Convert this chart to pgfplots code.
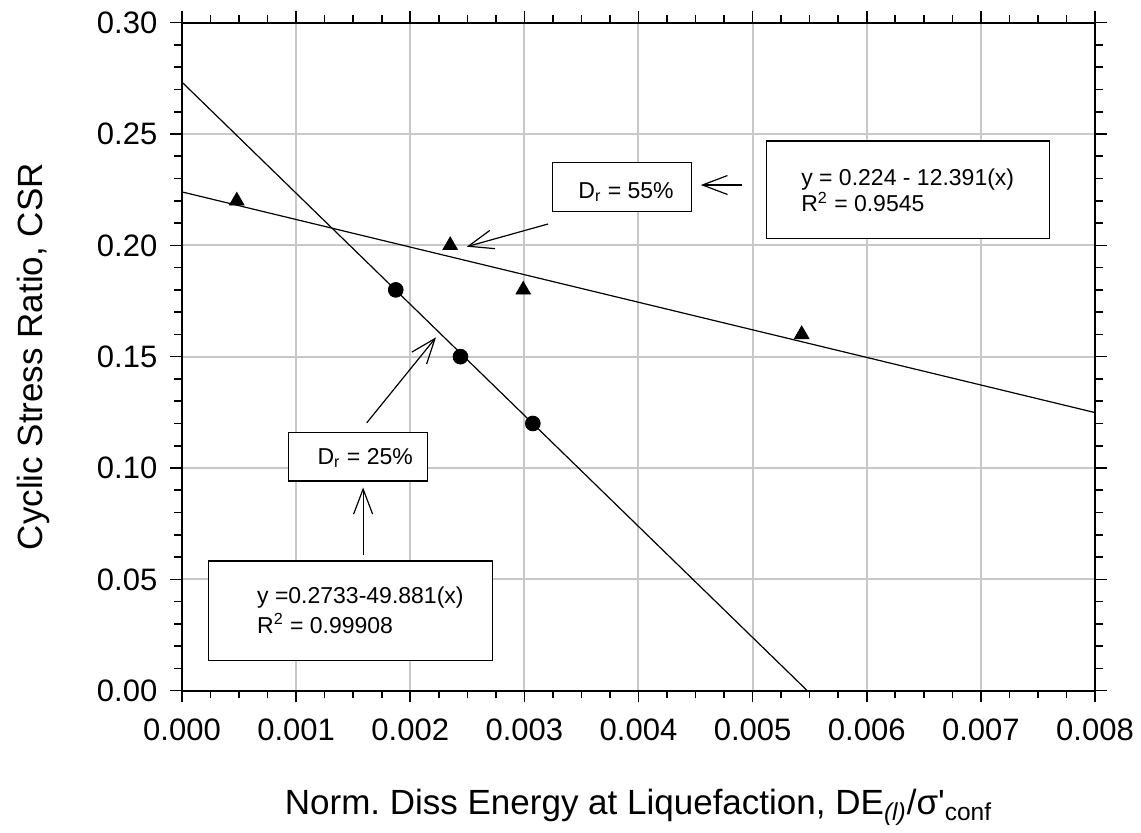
\documentclass[border=0pt]{standalone}
\usepackage{fontspec}
\setmainfont{Liberation Sans}
\newfontfamily\plainarial{Liberation Sans}
\usepackage{pgfplots}
\pgfplotsset{compat=1.18}
\usetikzlibrary{arrows.meta}

\definecolor{gridgray}{RGB}{200,200,200}

\begin{document}
\begin{tikzpicture}
\begin{axis}[
    scale only axis,
    width=456.5pt, height=334pt,
    xmin=0, xmax=0.008,
    ymin=0, ymax=0.30,
    xtick={0,0.001,...,0.008},
    ytick={0,0.05,...,0.30},
    minor x tick num=3,
    minor y tick num=4,
    tick align=outside,
    major tick length=5.8pt,
    minor tick length=3.8pt,
    tick style={black, line width=0.8pt},
    axis line style={line width=0.9pt},
    grid=major,
    major grid style={gridgray, line width=1pt},
    scaled x ticks=false,
    scaled y ticks=false,
    /pgf/number format/assume math mode=true,
    xticklabel style={/pgf/number format/.cd, fixed, fixed zerofill, precision=3, /tikz/.cd,
        font=\fontsize{15.5}{18}\selectfont, yshift=-4.5pt},
    yticklabel style={/pgf/number format/.cd, fixed, fixed zerofill, precision=2, /tikz/.cd,
        font=\fontsize{15.5}{18}\selectfont, xshift=-3pt},
    xlabel={Norm.\ Diss Energy at Liquefaction, DE\textsubscript{\textit{(l)}}/σ{\plainarial '}\textsubscript{conf}},
    ylabel={Cyclic Stress Ratio, CSR},
    xlabel style={font=\fontsize{17.5}{20}\selectfont, at={(axis description cs:0.5,-0.1856)}, anchor=base},
    ylabel style={font=\fontsize{17.5}{20}\selectfont, at={(axis description cs:-0.1533,0.5)}, anchor=base, rotate=0},
    clip=true,
]
% fitted lines
\addplot[black, line width=0.6pt] coordinates {(0,0.224) (0.008,0.1249)};
\addplot[black, line width=0.6pt] coordinates {(0,0.2733) (0.005479,0)};
% Dr = 55%
\addplot[only marks, mark=triangle*, mark size=4.2pt, black] coordinates {
    (0.00048,0.22) (0.00235,0.20) (0.00299,0.18) (0.00543,0.16)};
% Dr = 25%
\addplot[only marks, mark=*, mark size=3.7pt, black] coordinates {
    (0.001873,0.18) (0.00244,0.15) (0.003074,0.12)};

\tikzset{annot/.style={font=\fontsize{11.5}{13.5}\selectfont, inner sep=0pt},
         arr/.style={black, line width=0.6pt, -{Straight Barb[length=12.5pt,width=9.5pt]}}}

% Dr = 55% label
\draw[black, line width=0.6pt, fill=white] (axis cs:0.003245,0.2151) rectangle (axis cs:0.004467,0.2373);
\node[annot, anchor=base west] at (axis cs:0.003470,0.2211) {D\textsubscript{r} = 55\%};
\draw[arr] (axis cs:0.004911,0.2271) -- (axis cs:0.004546,0.2271);
\draw[arr] (axis cs:0.003208,0.2096) -- (axis cs:0.002495,0.1994);
\draw[black, line width=0.6pt, fill=white] (axis cs:0.005124,0.2032) rectangle (axis cs:0.007601,0.2469);
\node[annot, anchor=base west] at (axis cs:0.005423,0.2271) {y = 0.224 - 12.391(x)};
\node[annot, anchor=base west] at (axis cs:0.005423,0.2151) {R\textsuperscript{2} = 0.9545};

% Dr = 25% label
\draw[black, line width=0.6pt, fill=white] (axis cs:0.000932,0.09418) rectangle (axis cs:0.002154,0.11605);
\node[annot, anchor=base west] at (axis cs:0.001185,0.1017) {D\textsubscript{r} = 25\%};
\draw[arr] (axis cs:0.001619,0.1203) -- (axis cs:0.002226,0.1587);
\draw[arr] (axis cs:0.001587,0.0609) -- (axis cs:0.001587,0.0913);
\draw[black, line width=0.6pt, fill=white] (axis cs:0.000231,0.01365) rectangle (axis cs:0.002720,0.05825);
\node[annot, anchor=base west] at (axis cs:0.000655,0.03894) {y =0.2733-49.881(x)};
\node[annot, anchor=base west] at (axis cs:0.000655,0.02578) {R\textsuperscript{2} = 0.99908};
\end{axis}
\pgfresetboundingbox
\path ([shift={(-91pt,-71.15pt)}]current axis.south west) rectangle ++(570.5pt,416.5pt);
\end{tikzpicture}
\end{document}
